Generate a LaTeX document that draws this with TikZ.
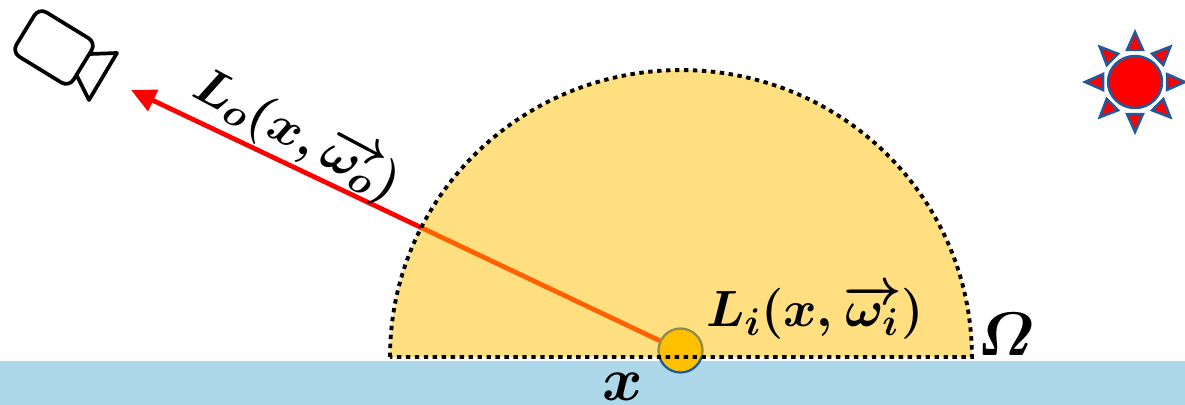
\documentclass[tikz,border=0pt]{standalone}
\usepackage{fix-cm}
\usepackage{amsmath}
\usetikzlibrary{arrows.meta}
\DeclareMathSizes{29}{29}{22}{16}
\definecolor{planeblue}{HTML}{ADD8E9}
\definecolor{domeyellow}{HTML}{FFC000}
\definecolor{sunblue}{HTML}{1F5A9C}
\tikzset{
  mathlabel/.style={inner sep=0pt,font=\fontsize{29}{32}\selectfont\boldmath},
  biglabel/.style={inner sep=0pt,font=\fontsize{35}{38}\selectfont\boldmath},
  ray/.style={-{Triangle[length=14pt,width=13pt]},red,line width=2.7pt},
  domeline/.style={black,line width=2.2pt,dash pattern=on 2.5pt off 2.6pt},
  camline/.style={black,line width=2.1pt,line join=round},
  sunpart/.style={fill=red,draw=sunblue,line width=1.4pt,line join=miter}
}

\begin{document}
\begin{tikzpicture}[x=0.02cm,y=-0.02cm]
  \path[use as bounding box,clip] (0,0) rectangle (1185,405);

  % Plane
  \fill[planeblue] (0,361) rectangle (1185,405);

  % Surface point
  \node[circle,fill=domeyellow,draw=sunblue,line width=1.3pt,inner sep=0pt,
    minimum size=0.88cm] (xpt) at (680.5,350.5) {};

  % Outgoing ray
  \coordinate (camtip) at (131,90);
  \draw[ray] (xpt) -- (camtip);

  % Hemisphere
  \fill[domeyellow,opacity=0.5] (390,357)
    arc[start angle=180,end angle=0,x radius=5.82cm,y radius=5.74cm] -- cycle;
  \draw[domeline] (390,357)
    arc[start angle=180,end angle=0,x radius=5.82cm,y radius=5.74cm] -- cycle;

  % Camera
  \begin{scope}[shift={(54,47.5)},rotate=-31.5]
    \draw[camline,rounded corners=5pt] (-33.5,-26) rectangle (33.5,26);
  \end{scope}
  \draw[camline] (90,54) -- (117,53) -- (89,100) -- (77,76);

  % Sun
  \draw[sunpart] (1135,82) ellipse[x radius=0.54cm,y radius=0.52cm];
  \foreach \a in {0,45,...,315}{
    \draw[sunpart,rotate around={\a:(1135,82)}] (1127,50) -- (1135,32) -- (1143,50) -- cycle;
  }

  % Labels
  \node[mathlabel,rotate=-28] (lolabel) at (297,135)
    {$L_o(x,\overrightarrow{\omega_o})$};
  \node[mathlabel] (lilabel) at (815,312)
    {$L_i(x,\overrightarrow{\omega_i})$};
  \node[biglabel] (omegalabel) at (1006,334) {$\mathnormal{\Omega}$};
  \node[biglabel] (xlabel) at (623,387) {$x$};

\end{tikzpicture}
\end{document}
